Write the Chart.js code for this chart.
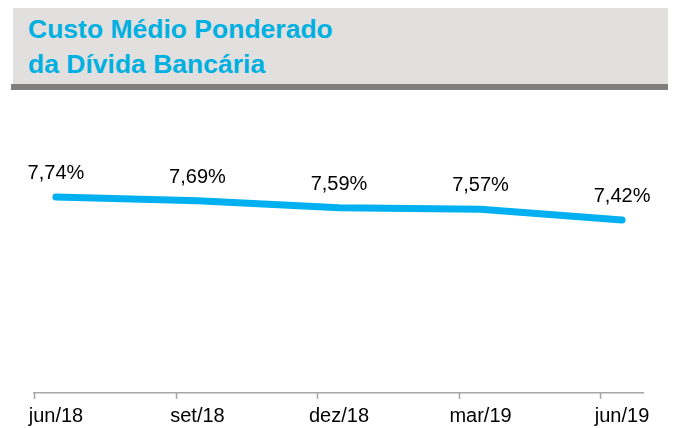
<!DOCTYPE html>
<html>
<head>
<meta charset="utf-8">
<script src="https://cdn.jsdelivr.net/npm/chart.js@4/dist/chart.umd.min.js"></script>
<style>
  body { margin: 0; background: #fff; font-family: 'Liberation Sans', Arial, sans-serif; overflow: hidden; }
  #wrap { position: relative; width: 675px; height: 428px; overflow: hidden; }
  #band { position: absolute; left: 13px; top: 8px; width: 655px; height: 76px; background: #e2dfdf; }
  #bar { position: absolute; left: 11px; top: 84px; width: 657px; height: 6px; background: #7f7f7f; }
  #title { position: absolute; left: 28px; top: 12px; color: #00b0e0; font-weight: bold; font-size: 26.5px; line-height: 35px; }
  canvas { position: absolute; left: 0; top: 0; }
</style>
</head>
<body>
<div id="wrap">
  <div id="band"></div>
  <div id="bar"></div>
  <div id="title">Custo Médio Ponderado<br>da Dívida Bancária</div>
  <canvas id="cmpd" width="675" height="439"></canvas>
</div>
<script>
const periods = ['jun/18', 'set/18', 'dez/18', 'mar/19', 'jun/19'];
const custo = [7.74, 7.69, 7.59, 7.57, 7.42];

const fmt = v => v.toFixed(2).replace('.', ',') + '%';

// little tick marks sit a bit left of each point, like the original
const axisTicks = {
  id: 'axisTicks',
  afterDraw(chart) {
    const xs = chart.scales.x, ctx = chart.ctx;
    const y0 = chart.chartArea.bottom;
    ctx.save();
    ctx.strokeStyle = '#a6a6a6';
    ctx.lineWidth = 1.5;
    ctx.beginPath();
    for (let i = 0; i < periods.length; i++) {
      const x = Math.round(xs.getPixelForValue(i - 0.155)) + 0.5;
      ctx.moveTo(x, y0);
      ctx.lineTo(x, y0 + 6);
    }
    ctx.stroke();
    ctx.restore();
  }
};

const valueLabels = {
  id: 'valueLabels',
  afterDatasetsDraw(chart) {
    const ctx = chart.ctx;
    const meta = chart.getDatasetMeta(0);
    ctx.save();
    ctx.font = '20px "Liberation Sans", Arial, sans-serif';
    ctx.fillStyle = '#000';
    ctx.textAlign = 'center';
    ctx.textBaseline = 'alphabetic';
    meta.data.forEach((pt, i) => {
      ctx.fillText(fmt(custo[i]), pt.x, pt.y - 18);
    });
    ctx.restore();
  }
};

new Chart(document.getElementById('cmpd'), {
  type: 'line',
  data: {
    datasets: [{
      data: custo.map((v, i) => ({ x: i, y: v })),
      borderColor: '#00b0f0',
      borderWidth: 7,
      borderCapStyle: 'round',
      borderJoinStyle: 'round',
      pointRadius: 0,
      tension: 0
    }]
  },
  options: {
    responsive: false,
    animation: false,
    events: [],
    layout: { padding: { left: 34, right: 32, top: 107, bottom: 0 } },
    plugins: { legend: { display: false }, tooltip: { enabled: false } },
    scales: {
      x: {
        type: 'linear',
        min: -0.155,
        max: 4.148,
        afterBuildTicks: s => { s.ticks = periods.map((_, i) => ({ value: i })); },
        grid: { display: false, drawTicks: false },
        border: { display: true, color: '#a6a6a6', width: 1.5 },
        ticks: {
          autoSkip: false,
          maxRotation: 0,
          padding: 11,
          color: '#000',
          font: { family: '"Liberation Sans", Arial, sans-serif', size: 20 },
          callback: v => periods[v]
        }
      },
      y: { display: false, min: 5, max: 9 }
    }
  },
  plugins: [axisTicks, valueLabels]
});
</script>
</body>
</html>
